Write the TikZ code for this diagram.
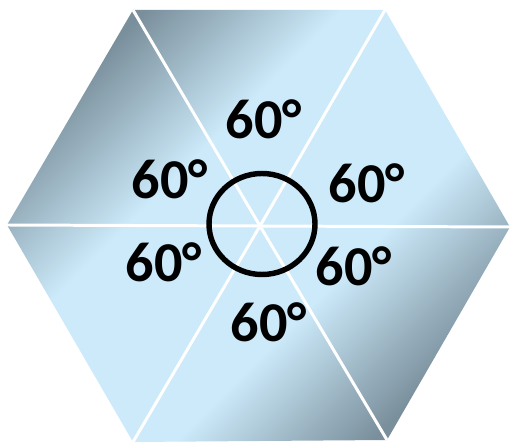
\documentclass[tikz,border=0pt]{standalone}
\usepackage{fontspec}
\setmainfont{Carlito}
\usepackage{xcolor}
\usepackage{tikz}
\usetikzlibrary{calc}

\definecolor{hexdark}{HTML}{7A8F9C}
\definecolor{hexlight}{HTML}{CCEAFA}
\pgfdeclareverticalshading{hexfade}{100bp}{color(0bp)=(hexdark); color(25bp)=(hexdark); color(40bp)=(hexlight); color(60bp)=(hexlight); color(75bp)=(hexdark); color(100bp)=(hexdark)}

\begin{document}
\begin{tikzpicture}[x=0.02cm,y=0.02cm,every node/.style={font=\fontsize{32}{32}\selectfont\bfseries}]
  \useasboundingbox (0,0) rectangle (510,442);
  % corners of the hexagon
  \coordinate (c) at (260,216);
  \coordinate (tl) at (133,432);
  \coordinate (tr) at (385,432);
  \coordinate (r) at (510,215);
  \coordinate (br) at (387,2);
  \coordinate (bl) at (133,0);
  \coordinate (l) at (7,217);
  % shaded hexagon
  \shade[shading=hexfade,shading angle=45] (tl) -- (tr) -- (r) -- (br) -- (bl) -- (l) -- cycle;
  % white seams between the triangles
  \draw[white,line width=1.7pt] (c) -- (tl);
  \draw[white,line width=1.7pt] (c) -- (tr);
  \draw[white,line width=1.7pt] (c) -- (r);
  \draw[white,line width=1.7pt] (c) -- (br);
  \draw[white,line width=1.7pt] (c) -- (bl);
  \draw[white,line width=1.7pt] (c) -- (l);
  % circle round the centre
  \draw[line width=3.1pt] (262,218) ellipse [x radius=53,y radius=50.5];
  % angle labels
  \node (top) at (264,323) {60°};
  \node (upleft) at (170,263) {60°};
  \node (upright) at (367,259) {60°};
  \node (lowleft) at (164,180) {60°};
  \node (lowright) at (354,176) {60°};
  \node (bottom) at (269,120) {60°};
\end{tikzpicture}
\end{document}
